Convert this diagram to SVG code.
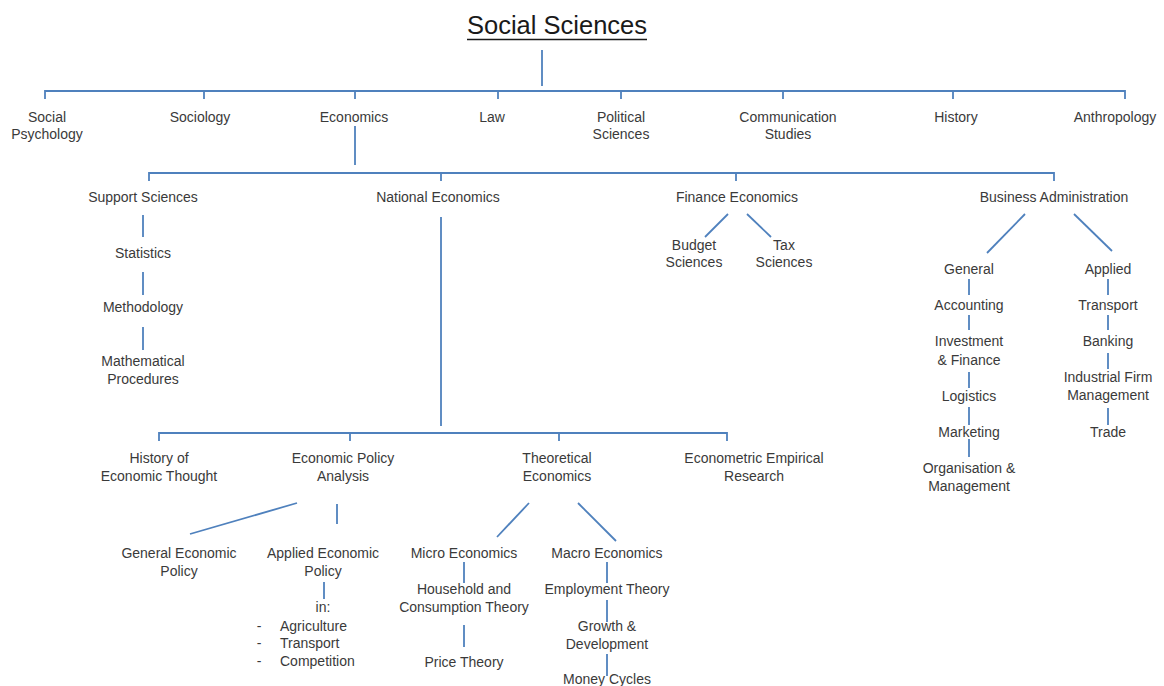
<svg xmlns="http://www.w3.org/2000/svg" width="1164" height="686" viewBox="0 0 1164 686">
<style>
text{font-family:"Liberation Sans",Arial,sans-serif;font-size:14px;fill:#3a3a3a;text-anchor:middle}
.title{font-size:25.5px;fill:#1a1a1a}
.lst{text-anchor:start}
#connectors line,#connectors path{stroke:#4f81bd;stroke-width:1.8;fill:none}
</style>
<rect width="1164" height="686" fill="#fff"/>
<g id="title"><text class="title" x="557" y="34">Social Sciences</text><line x1="467" y1="39.5" x2="647" y2="39.5" stroke="#1a1a1a" stroke-width="1.6"/></g>
<g id="connectors">
<line x1="542" y1="50" x2="542" y2="86"/>
<path d="M45 99V91H1125V99"/>
<line x1="204" y1="91" x2="204" y2="99"/><line x1="355" y1="91" x2="355" y2="99"/><line x1="498" y1="91" x2="498" y2="99"/><line x1="621" y1="91" x2="621" y2="99"/><line x1="783" y1="91" x2="783" y2="99"/><line x1="953" y1="91" x2="953" y2="99"/>
<line x1="355" y1="126" x2="355" y2="165"/>
<path d="M149 181V173H1054V181"/>
<line x1="441" y1="173" x2="441" y2="181"/><line x1="736" y1="173" x2="736" y2="181"/>
<line x1="143" y1="215" x2="143" y2="237"/><line x1="143" y1="272" x2="143" y2="295"/><line x1="143" y1="327" x2="143" y2="350"/>
<line x1="441" y1="217" x2="441" y2="426"/>
<path d="M159 441V433H727V441"/>
<line x1="350" y1="433" x2="350" y2="441"/><line x1="559" y1="433" x2="559" y2="441"/>
<line x1="728" y1="214" x2="705" y2="237"/><line x1="747" y1="214" x2="771" y2="237"/>
<line x1="1025" y1="214" x2="987" y2="253"/><line x1="1074" y1="214" x2="1112" y2="251"/>
<line x1="969" y1="279" x2="969" y2="295"/><line x1="969" y1="315" x2="969" y2="330"/><line x1="969" y1="372" x2="969" y2="388"/><line x1="969" y1="407" x2="969" y2="425"/><line x1="969" y1="439" x2="969" y2="457"/>
<line x1="1108" y1="279" x2="1108" y2="295"/><line x1="1108" y1="315" x2="1108" y2="330"/><line x1="1108" y1="353" x2="1108" y2="369"/><line x1="1108" y1="408" x2="1108" y2="425"/>
<line x1="297" y1="503" x2="190" y2="534"/><line x1="337" y1="504" x2="337" y2="524"/>
<line x1="324" y1="582" x2="324" y2="599"/>
<line x1="529" y1="503" x2="497" y2="537"/><line x1="578" y1="503" x2="616" y2="541"/>
<line x1="464" y1="562" x2="464" y2="583"/><line x1="464" y1="625" x2="464" y2="647"/>
<line x1="607" y1="562" x2="607" y2="583"/><line x1="607" y1="600" x2="607" y2="622"/><line x1="607" y1="654" x2="607" y2="676"/>
</g>
<g id="social-psychology"><text x="47" y="122">Social</text><text x="47" y="139">Psychology</text></g>
<g id="sociology"><text x="200" y="122">Sociology</text></g>
<g id="economics"><text x="354" y="122">Economics</text></g>
<g id="law"><text x="492" y="122">Law</text></g>
<g id="political-sciences"><text x="621" y="122">Political</text><text x="621" y="139">Sciences</text></g>
<g id="communication-studies"><text x="788" y="122">Communication</text><text x="788" y="139">Studies</text></g>
<g id="history"><text x="956" y="122">History</text></g>
<g id="anthropology"><text x="1115" y="122">Anthropology</text></g>
<g id="support-sciences"><text x="143" y="202">Support Sciences</text></g>
<g id="statistics"><text x="143" y="258">Statistics</text></g>
<g id="methodology"><text x="143" y="312">Methodology</text></g>
<g id="mathematical-procedures"><text x="143" y="366">Mathematical</text><text x="143" y="384">Procedures</text></g>
<g id="national-economics"><text x="438" y="202">National Economics</text></g>
<g id="finance-economics"><text x="737" y="202">Finance Economics</text></g>
<g id="budget-sciences"><text x="694" y="250">Budget</text><text x="694" y="267">Sciences</text></g>
<g id="tax-sciences"><text x="784" y="250">Tax</text><text x="784" y="267">Sciences</text></g>
<g id="business-administration"><text x="1054" y="202">Business Administration</text></g>
<g id="general"><text x="969" y="274">General</text></g>
<g id="accounting"><text x="969" y="310">Accounting</text></g>
<g id="investment-finance"><text x="969" y="346">Investment</text><text x="969" y="365">&amp; Finance</text></g>
<g id="logistics"><text x="969" y="401">Logistics</text></g>
<g id="marketing"><text x="969" y="437">Marketing</text></g>
<g id="organisation-management"><text x="969" y="473">Organisation &amp;</text><text x="969" y="491">Management</text></g>
<g id="applied"><text x="1108" y="274">Applied</text></g>
<g id="transport"><text x="1108" y="310">Transport</text></g>
<g id="banking"><text x="1108" y="346">Banking</text></g>
<g id="industrial-firm-management"><text x="1108" y="382">Industrial Firm</text><text x="1108" y="400">Management</text></g>
<g id="trade"><text x="1108" y="437">Trade</text></g>
<g id="history-economic-thought"><text x="159" y="463">History of</text><text x="159" y="481">Economic Thought</text></g>
<g id="economic-policy-analysis"><text x="343" y="463">Economic Policy</text><text x="343" y="481">Analysis</text></g>
<g id="theoretical-economics"><text x="557" y="463">Theoretical</text><text x="557" y="481">Economics</text></g>
<g id="econometric-empirical-research"><text x="754" y="463">Econometric Empirical</text><text x="754" y="481">Research</text></g>
<g id="general-economic-policy"><text x="179" y="558">General Economic</text><text x="179" y="576">Policy</text></g>
<g id="applied-economic-policy"><text x="323" y="558">Applied Economic</text><text x="323" y="576">Policy</text></g>
<g id="applied-in"><text x="323" y="612">in:</text>
<text x="259" y="631">-</text><text class="lst" x="280" y="631">Agriculture</text>
<text x="259" y="648">-</text><text class="lst" x="280" y="648">Transport</text>
<text x="259" y="666">-</text><text class="lst" x="280" y="666">Competition</text></g>
<g id="micro-economics"><text x="464" y="558">Micro Economics</text></g>
<g id="household-consumption-theory"><text x="464" y="594">Household and</text><text x="464" y="612">Consumption Theory</text></g>
<g id="price-theory"><text x="464" y="667">Price Theory</text></g>
<g id="macro-economics"><text x="607" y="558">Macro Economics</text></g>
<g id="employment-theory"><text x="607" y="594">Employment Theory</text></g>
<g id="growth-development"><text x="607" y="631">Growth &amp;</text><text x="607" y="649">Development</text></g>
<g id="money-cycles"><text x="607" y="684">Money Cycles</text></g>
</svg>
